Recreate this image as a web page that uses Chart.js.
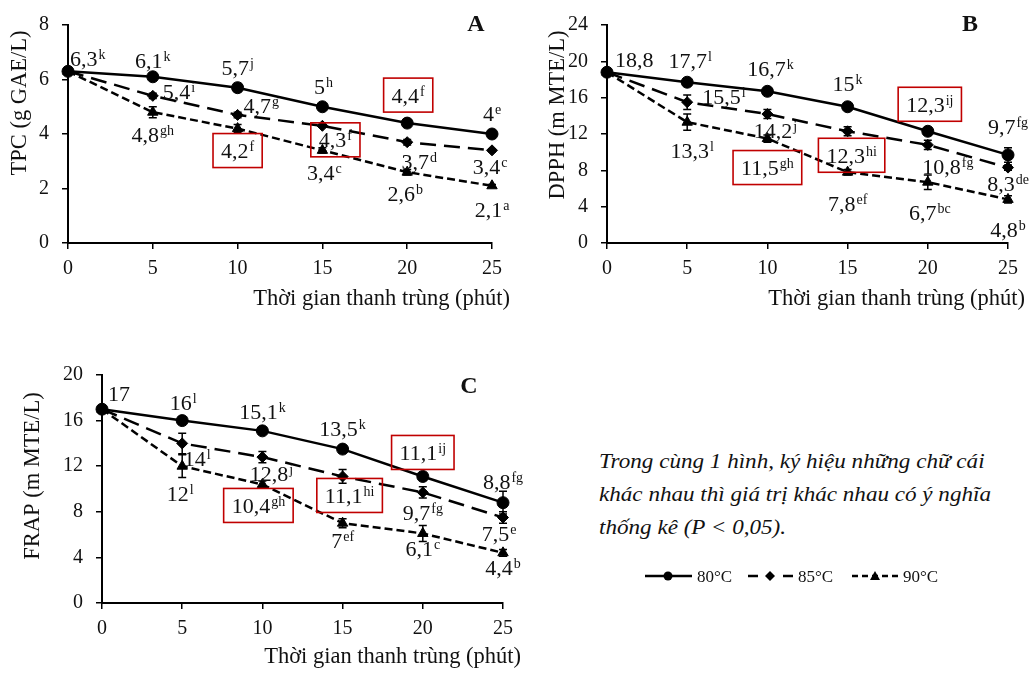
<!DOCTYPE html>
<html><head><meta charset="utf-8">
<script src="https://cdn.jsdelivr.net/npm/chart.js@4"></script>
<style>
html,body{margin:0;padding:0;background:#fff;}
body{width:1031px;height:673px;position:relative;overflow:hidden;font-family:"Liberation Serif","Times New Roman",serif;}
canvas{position:absolute;}
#cA{left:0;top:0;} #cB{left:520px;top:0;} #cC{left:0;top:330px;}
#note{position:absolute;left:599px;top:444px;font-style:italic;font-size:22px;line-height:33px;white-space:nowrap;color:#111;transform:scaleX(1.05);transform-origin:0 0;}
#leg{position:absolute;left:0;top:0;}
</style></head>
<body>
<canvas id="cA" width="520" height="320"></canvas>
<canvas id="cB" width="511" height="320"></canvas>
<canvas id="cC" width="560" height="343"></canvas>
<div id="note">Trong cùng 1 hình, ký hiệu những chữ cái<br>khác nhau thì giá trị khác nhau có ý nghĩa<br>thống kê (P &lt; 0,05).</div>
<svg id="leg" width="1031" height="673" xmlns="http://www.w3.org/2000/svg"></svg>
<script>
// ---------- DATA ----------
const times = [0, 5, 10, 15, 20, 25];
const seriesNames = ['80°C', '85°C', '90°C'];
const xTitle = 'Thời gian thanh trùng (phút)';

// Panel A – TPC (g GAE/L)
const tpcTicks = [0, 2, 4, 6, 8];
const tpc80 = [6.3, 6.1, 5.7, 5.0, 4.4, 4.0];
const tpc85 = [6.3, 5.4, 4.7, 4.3, 3.7, 3.4];
const tpc90 = [6.3, 4.8, 4.2, 3.4, 2.6, 2.1];
const tpcErr80 = [0.05, 0.05, 0.15, 0.05, 0.05, 0.05];
const tpcErr85 = [0.05, 0.1, 0.1, 0.05, 0.1, 0.05];
const tpcErr90 = [0.05, 0.2, 0.15, 0.1, 0.1, 0.05];
const tpcLet80 = ['k', 'k', 'j', 'h', 'f', 'e'];
const tpcLet85 = [null, 'i', 'g', 'f', 'd', 'c'];
const tpcLet90 = [null, 'gh', 'f', 'c', 'b', 'a'];

// Panel B – DPPH (m MTE/L)
const dpphTicks = [0, 4, 8, 12, 16, 20, 24];
const dpph80 = [18.8, 17.7, 16.7, 15.0, 12.3, 9.7];
const dpph85 = [18.8, 15.5, 14.2, 12.3, 10.8, 8.3];
const dpph90 = [18.8, 13.3, 11.5, 7.8, 6.7, 4.8];
const dpphErr80 = [0.2, 0.3, 0.2, 0.2, 0.2, 0.8];
const dpphErr85 = [0.3, 0.8, 0.5, 0.5, 0.5, 0.3];
const dpphErr90 = [0.3, 0.9, 0.4, 0.3, 0.8, 0.4];
const dpphLet80 = ['', 'l', 'k', 'k', 'ij', 'fg'];
const dpphLet85 = [null, 'l', 'j', 'hi', 'fg', 'de'];
const dpphLet90 = [null, 'l', 'gh', 'ef', 'bc', 'b'];

// Panel C – FRAP (m MTE/L)
const frapTicks = [0, 4, 8, 12, 16, 20];
const frap80 = [17, 16, 15.1, 13.5, 11.1, 8.8];
const frap85 = [17, 14, 12.8, 11.1, 9.7, 7.5];
const frap90 = [17, 12, 10.4, 7.0, 6.1, 4.4];
const frapErr80 = [0.2, 0.3, 0.2, 0.2, 0.2, 1.0];
const frapErr85 = [0.3, 0.9, 0.5, 0.6, 0.5, 0.5];
const frapErr90 = [0.3, 1.0, 0.3, 0.4, 0.7, 0.3];
const frapLet80 = ['', 'l', 'k', 'k', 'ij', 'fg'];
const frapLet85 = [null, 'l', 'j', 'hi', 'fg', 'e'];
const frapLet90 = [null, 'l', 'gh', 'ef', 'c', 'b'];

// ---------- LABEL PLACEMENT (style, px offsets from each point) ----------
const posA = [
  [['l',2,-13],['c',0,-16],['c',0,-20],['c',1,-20],['c',1,-28],['c',0,-21]],
  [null,['l',10,-4],['l',6,-9],['c',13,14],['c',12,19],['c',-2,16]],
  [null,['c',0,22],['c',0,22],['c',2,22],['c',-2,21],['c',0,24]]
];
const boxA = [[0,0,0,0,1,0],[0,0,0,1,0,0],[0,0,1,0,0,0]];
const posB = [
  [['l',8,-13],['c',3,-22],['c',3,-23],['c',0,-23],['c',2,-27],['c',0,-28]],
  [null,['l',15,-6],['c',8,16],['c',4,24],['c',20,22],['c',0,16]],
  [null,['c',5,28],['c',0,29],['c',0,31],['c',2,30],['c',0,30]]
];
const boxB = [[0,0,0,0,1,0],[0,0,0,1,0,0],[0,0,1,0,0,0]];
const posC = [
  [['l',6,-16],['c',1,-18],['c',0,-19],['c',0,-21],['c',0,-24],['c',0,-21]],
  [null,['c',15,15],['c',9,16],['c',7,19],['c',0,20],['c',-4,16]],
  [null,['c',-2,27],['c',-4,21],['c',0,17],['c',0,15],['c',0,15]]
];
const boxC = [[0,0,0,0,1,0],[0,0,0,1,0,0],[0,0,1,0,0,0]];

// ---------- STYLE ----------
const FONT = '"Liberation Serif","Times New Roman",serif';
const dashes = [[], [16, 8], [8, 4]];
const pStyles = ['circle', 'rectRot', 'triangle'];
const pRadius = [6, 5.5, 6];
const RED = '#c00000';

function fmt(v) { return String(v).replace('.', ','); }

function makePanel(id, p) {
  const datasets = p.values.map((vals, i) => ({
    label: seriesNames[i],
    data: times.map((t, j) => ({ x: t, y: vals[j] })),
    borderColor: '#000', backgroundColor: '#000',
    borderWidth: 2.5, borderDash: dashes[i],
    pointStyle: pStyles[i], pointRadius: pRadius[i], pointBorderWidth: 1,
    pointBorderColor: '#000', pointBackgroundColor: '#000',
    tension: 0, clip: false, order: 3 - i
  }));

  const annot = {
    id: 'annot',
    beforeDatasetsDraw(chart) {
      const ctx = chart.ctx, xs = chart.scales.x, ys = chart.scales.y;
      ctx.save(); ctx.strokeStyle = '#000'; ctx.lineWidth = 1.5;
      p.errs.forEach((err, i) => err.forEach((e, j) => {
        const v = p.values[i][j];
        const x = xs.getPixelForValue(times[j]);
        const y1 = ys.getPixelForValue(v + e), y2 = ys.getPixelForValue(v - e);
        ctx.beginPath();
        ctx.moveTo(x, y1); ctx.lineTo(x, y2);
        ctx.moveTo(x - 4, y1); ctx.lineTo(x + 4, y1);
        ctx.moveTo(x - 4, y2); ctx.lineTo(x + 4, y2);
        ctx.stroke();
      }));
      ctx.restore();
    },
    afterDatasetsDraw(chart) {
      const ctx = chart.ctx, xs = chart.scales.x, ys = chart.scales.y;
      ctx.save();
      ctx.fillStyle = '#111';
      ctx.textBaseline = 'alphabetic';
      const mainF = '22px ' + FONT, supF = '14px ' + FONT;
      p.letters.forEach((lets, i) => lets.forEach((sup, j) => {
        if (sup === null) return;
        const pos = p.pos[i][j];
        const txt = fmt(p.values[i][j]);
        ctx.font = mainF; const wm = ctx.measureText(txt).width;
        ctx.font = supF; const ws = sup ? ctx.measureText(sup).width + 1 : 0;
        const w = wm + ws;
        const px = xs.getPixelForValue(times[j]), py = ys.getPixelForValue(p.values[i][j]);
        const cx = px + pos[1];
        const cy = py + pos[2];
        const left = pos[0] === 'l' ? cx : cx - w / 2;
        const base = cy + 7.5;
        ctx.textAlign = 'left';
        ctx.font = mainF; ctx.fillText(txt, left, base);
        if (sup) { ctx.font = supF; ctx.fillText(sup, left + wm + 1, cy + 0.5); }
        if (p.box[i][j]) {
          ctx.strokeStyle = RED; ctx.lineWidth = 1.6;
          ctx.strokeRect(left - 8, cy - 17, w + 16, 34);
        }
      }));
      // axis titles
      ctx.fillStyle = '#111';
      ctx.font = '22.5px ' + FONT;
      ctx.textAlign = 'right'; ctx.textBaseline = 'middle';
      ctx.fillText(xTitle, p.xt[0], p.xt[1]);
      ctx.save();
      ctx.translate(p.yt[0], p.yt[1]); ctx.rotate(-Math.PI / 2);
      ctx.textAlign = 'center';
      ctx.fillText(p.yTitle, 0, 0);
      ctx.restore();
      // panel letter
      ctx.font = 'bold 24px ' + FONT;
      ctx.textAlign = 'center'; ctx.textBaseline = 'middle';
      ctx.fillText(p.letter, p.lt[0], p.lt[1]);
      ctx.restore();
    }
  };

  new Chart(document.getElementById(id), {
    type: 'line',
    data: { datasets },
    plugins: [annot],
    options: {
      responsive: false, animation: false, devicePixelRatio: 1,
      layout: { padding: { left: 0, top: p.pad[0], right: p.pad[1], bottom: 0 } },
      plugins: { legend: { display: false }, tooltip: { enabled: false } },
      scales: {
        x: {
          type: 'linear', min: 0, max: 25,
          afterBuildTicks: s => { s.ticks = times.map(v => ({ value: v })); },
          afterFit: s => { s.height = p.xh; },
          grid: { drawOnChartArea: false, drawTicks: true, tickLength: 6, color: '#000', lineWidth: 1.5 },
          border: { display: true, color: '#000', width: 2 },
          ticks: { color: '#111', font: { family: FONT, size: 20 }, padding: 8, maxRotation: 0 }
        },
        y: {
          min: 0, max: p.ticks[p.ticks.length - 1],
          afterBuildTicks: s => { s.ticks = p.ticks.map(v => ({ value: v })); },
          afterFit: s => { s.width = p.yw; },
          grid: { drawOnChartArea: false, drawTicks: true, tickLength: 6, color: '#000', lineWidth: 1.5 },
          border: { display: true, color: '#000', width: 2 },
          ticks: { color: '#111', font: { family: FONT, size: 20 }, padding: 13 }
        }
      }
    }
  });
}

makePanel('cA', {
  values: [tpc80, tpc85, tpc90], errs: [tpcErr80, tpcErr85, tpcErr90],
  letters: [tpcLet80, tpcLet85, tpcLet90], pos: posA, box: boxA, ticks: tpcTicks,
  yTitle: 'TPC (g GAE/L)', letter: 'A',
  pad: [15, 28], yw: 68, xh: 77, xt: [510, 299], yt: [20, 103], lt: [476, 25]
});
makePanel('cB', {
  values: [dpph80, dpph85, dpph90], errs: [dpphErr80, dpphErr85, dpphErr90],
  letters: [dpphLet80, dpphLet85, dpphLet90], pos: posB, box: boxB, ticks: dpphTicks,
  yTitle: 'DPPH (m MTE/L)', letter: 'B',
  pad: [16, 23], yw: 87, xh: 77, xt: [505, 299], yt: [38, 115], lt: [450, 25]
});
makePanel('cC', {
  values: [frap80, frap85, frap90], errs: [frapErr80, frapErr85, frapErr90],
  letters: [frapLet80, frapLet85, frapLet90], pos: posC, box: boxC, ticks: frapTicks,
  yTitle: 'FRAP (m MTE/L)', letter: 'C',
  pad: [45, 57], yw: 102, xh: 70, xt: [521, 327], yt: [33, 146], lt: [469, 57]
});

// ---------- LEGEND ----------
(function () {
  const svg = document.getElementById('leg');
  const NS = 'http://www.w3.org/2000/svg';
  const y = 576;
  const items = [
    { x1: 645, x2: 692, mx: 668, dash: '', tx: 697 },
    { x1: 748, x2: 793, mx: 770, dash: '10 25', tx: 798 },
    { x1: 852, x2: 900, mx: 875, dash: '6 4', tx: 903 }
  ];
  items.forEach((it, i) => {
    const l = document.createElementNS(NS, 'line');
    l.setAttribute('x1', it.x1); l.setAttribute('x2', it.x2);
    l.setAttribute('y1', y); l.setAttribute('y2', y);
    l.setAttribute('stroke', '#000'); l.setAttribute('stroke-width', '2.5');
    if (it.dash) l.setAttribute('stroke-dasharray', it.dash);
    svg.appendChild(l);
    let m;
    if (i === 0) {
      m = document.createElementNS(NS, 'circle');
      m.setAttribute('cx', it.mx); m.setAttribute('cy', y); m.setAttribute('r', 4.5);
    } else if (i === 1) {
      m = document.createElementNS(NS, 'polygon');
      m.setAttribute('points', `${it.mx},${y-5} ${it.mx+5},${y} ${it.mx},${y+5} ${it.mx-5},${y}`);
    } else {
      m = document.createElementNS(NS, 'polygon');
      m.setAttribute('points', `${it.mx},${y-5} ${it.mx+5},${y+4} ${it.mx-5},${y+4}`);
    }
    m.setAttribute('fill', '#000');
    svg.appendChild(m);
    const t = document.createElementNS(NS, 'text');
    t.setAttribute('x', it.tx); t.setAttribute('y', y + 6);
    t.setAttribute('font-family', 'Liberation Serif'); t.setAttribute('font-size', '17');
    t.setAttribute('fill', '#111');
    t.textContent = seriesNames[i];
    svg.appendChild(t);
  });
})();
</script>
</body></html>
